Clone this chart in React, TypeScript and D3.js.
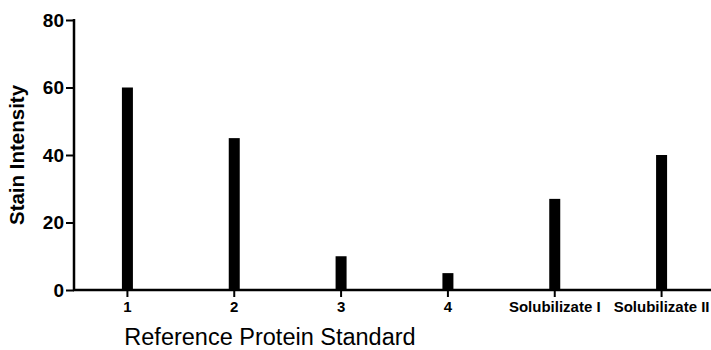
import { useRef, useEffect } from "react";
import * as d3 from "d3";

// values
const categories = ["1", "2", "3", "4", "Solubilizate I", "Solubilizate II"];
const intensity = [60, 45, 10, 5, 27, 40];
const yTicks = [0, 20, 40, 60, 80];

const width = 711;
const height = 350;
const margin = { top: 20, right: -4, bottom: 60, left: 74 };
const font = "Liberation Sans, Arial, sans-serif";

const App = () => {
  const svgRef = useRef<SVGSVGElement>(null);

  useEffect(() => {
    const svg = d3.select(svgRef.current);
    svg.selectAll("*").remove();

    const x = d3
      .scaleBand()
      .domain(categories)
      .range([margin.left, width - margin.right])
      .padding(0);

    const y = d3
      .scaleLinear()
      .domain([0, 80])
      .range([height - margin.bottom, margin.top]);

    const barW = 11;
    const data = categories.map((c, i) => ({ c, v: intensity[i] }));

    svg
      .append("g")
      .selectAll("rect")
      .data(data)
      .join("rect")
      .attr("x", (d) => x(d.c)! + x.bandwidth() / 2 - barW / 2)
      .attr("y", (d) => y(d.v))
      .attr("width", barW)
      .attr("height", (d) => y(0) - y(d.v))
      .attr("fill", "#000");

    const yAxis = svg
      .append("g")
      .attr("transform", `translate(${margin.left},0)`)
      .call(d3.axisLeft(y).tickValues(yTicks).tickSize(8).tickPadding(2));
    yAxis.select(".domain").attr("stroke-width", 2.5).attr("d", `M0,${y(80) - 1}V${y(0) + 1}`);
    yAxis.selectAll(".tick line").attr("stroke-width", 2);
    yAxis
      .selectAll(".tick text")
      .attr("font-family", font)
      .attr("font-weight", "bold")
      .attr("font-size", 19)
      .attr("fill", "#000");

    const xAxis = svg
      .append("g")
      .attr("transform", `translate(0,${y(0)})`)
      .call(d3.axisBottom(x).tickSize(7).tickPadding(4));
    xAxis.select(".domain").attr("stroke-width", 2.5).attr("d", `M${margin.left - 1},0H${width}`);
    xAxis.selectAll(".tick line").attr("stroke-width", 2);
    xAxis
      .selectAll(".tick text")
      .attr("font-family", font)
      .attr("font-weight", "bold")
      .attr("font-size", 15)
      .attr("fill", "#000");

    svg
      .append("text")
      .attr("transform", `translate(24,${(y(0) + y(80)) / 2}) rotate(-90)`)
      .attr("text-anchor", "middle")
      .attr("font-family", font)
      .attr("font-weight", "bold")
      .attr("font-size", 20.5)
      .text("Stain Intensity");

    svg
      .append("text")
      .attr("x", 270)
      .attr("y", 345)
      .attr("text-anchor", "middle")
      .attr("font-family", font)
      .attr("font-size", 23.5)
      .text("Reference Protein Standard");
  }, []);

  return (
    <svg
      ref={svgRef}
      width={width}
      height={height}
      style={{ position: "absolute", left: 0, top: 0, background: "#fff" }}
    />
  );
};

export default App;
